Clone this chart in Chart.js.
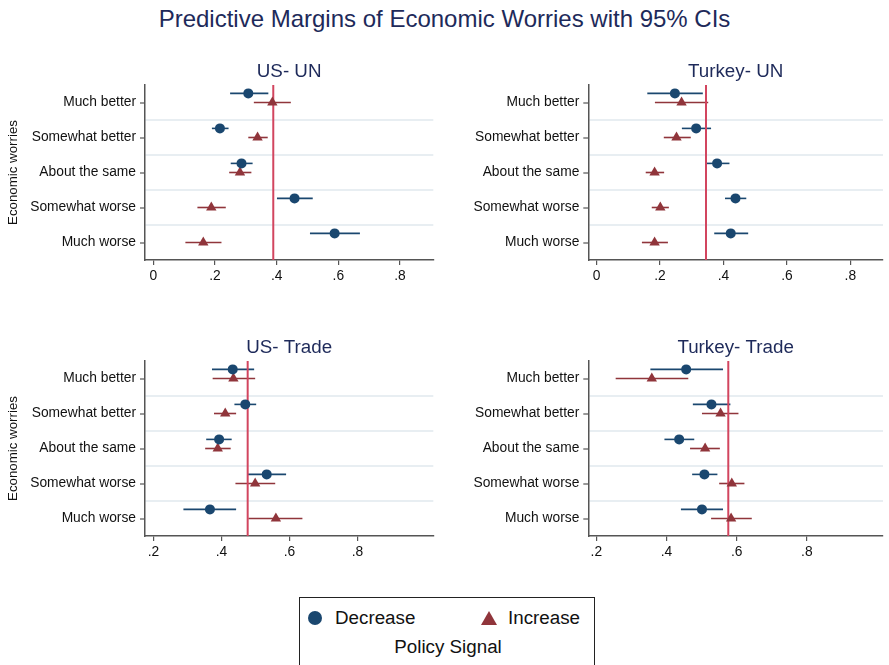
<!DOCTYPE html>
<html>
<head>
<meta charset="utf-8">
<script src="https://cdn.jsdelivr.net/npm/chart.js@4.4.1/dist/chart.umd.min.js"></script>
<style>
body { margin: 0; background: #fff; width: 889px; height: 665px; overflow: hidden; position: relative; font-family: "Liberation Sans", Arial, sans-serif; }
#title { position: absolute; top: 5px; left: 0; width: 889px; text-align: center; font-size: 24px; color: #1e2a5a; }
canvas { position: absolute; }
#legend { position: absolute; left: 299px; top: 597px; width: 296px; height: 90px; border: 1.5px solid #222; box-sizing: border-box; font-size: 18.8px; color: #111; }
#legend .dot { position: absolute; left: 8px; top: 13px; width: 14px; height: 14px; border-radius: 50%; background: #1a476f; }
#legend .tri { position: absolute; left: 181px; top: 13px; width: 0; height: 0; border-left: 8.5px solid transparent; border-right: 8.5px solid transparent; border-bottom: 14px solid #90353b; }
#legend span { position: absolute; line-height: 22px; }
</style>
</head>
<body>
<div id="title">Predictive Margins of Economic Worries with 95% CIs</div>
<canvas id="c0" width="445" height="240" style="left:0;top:50px"></canvas>
<canvas id="c1" width="444" height="240" style="left:445px;top:50px"></canvas>
<canvas id="c2" width="445" height="240" style="left:0;top:326px"></canvas>
<canvas id="c3" width="444" height="240" style="left:445px;top:326px"></canvas>
<div id="legend">
  <div class="dot"></div><span style="left:35px;top:9px">Decrease</span>
  <div class="tri"></div><span style="left:208px;top:9px">Increase</span>
  <span style="left:0;width:296px;text-align:center;top:38px">Policy Signal</span>
</div>
<script>
const categories = ['Much better', 'Somewhat better', 'About the same', 'Somewhat worse', 'Much worse'];
const panelTitles = ['US- UN', 'Turkey- UN', 'US- Trade', 'Turkey- Trade'];
const refLines = [0.389, 0.345, 0.477, 0.576];
const xTickValues = [[0, 0.2, 0.4, 0.6, 0.8], [0, 0.2, 0.4, 0.6, 0.8], [0.2, 0.4, 0.6, 0.8], [0.2, 0.4, 0.6, 0.8]];
const xMin = [-0.027, -0.026, 0.175, 0.177];
const xMax = [0.908, 0.903, 1.023, 1.017];

const decreaseMargin = [
    [0.308, 0.216, 0.286, 0.458, 0.588],
    [0.247, 0.314, 0.380, 0.438, 0.423],
    [0.433, 0.470, 0.393, 0.533, 0.366],
    [0.456, 0.528, 0.436, 0.508, 0.501]
];
const decreaseLow = [
    [0.249, 0.190, 0.251, 0.401, 0.508],
    [0.160, 0.269, 0.342, 0.405, 0.371],
    [0.372, 0.438, 0.355, 0.476, 0.288],
    [0.354, 0.475, 0.394, 0.473, 0.441]
];
const decreaseHigh = [
    [0.373, 0.244, 0.322, 0.517, 0.670],
    [0.335, 0.361, 0.419, 0.472, 0.478],
    [0.496, 0.502, 0.430, 0.590, 0.443],
    [0.561, 0.582, 0.479, 0.545, 0.561]
];
const increaseMargin = [
    [0.386, 0.338, 0.281, 0.188, 0.162],
    [0.268, 0.252, 0.183, 0.201, 0.183],
    [0.435, 0.411, 0.389, 0.499, 0.560],
    [0.358, 0.554, 0.510, 0.586, 0.584]
];
const increaseLow = [
    [0.326, 0.308, 0.246, 0.143, 0.104],
    [0.184, 0.212, 0.155, 0.174, 0.143],
    [0.374, 0.378, 0.352, 0.441, 0.479],
    [0.255, 0.501, 0.467, 0.550, 0.527]
];
const increaseHigh = [
    [0.446, 0.371, 0.318, 0.235, 0.221],
    [0.352, 0.297, 0.213, 0.228, 0.225],
    [0.499, 0.443, 0.427, 0.558, 0.638],
    [0.462, 0.605, 0.552, 0.622, 0.643]
];

const navy = '#1a476f';
const maroon = '#90353b';
const fontFamily = '"Liberation Sans", Arial, sans-serif';

// draws CI whiskers, the reference line and the panel title
const panelExtras = {
    id: 'panelExtras',
    beforeDatasetsDraw(chart, args, opts) {
        const ctx = chart.ctx;
        const xs = chart.scales.x;
        const area = chart.chartArea;
        ctx.save();
        chart.data.datasets.forEach((ds, di) => {
            const meta = chart.getDatasetMeta(di);
            ctx.strokeStyle = ds.ciColor;
            ctx.lineWidth = 1.6;
            meta.data.forEach((pt, i) => {
                ctx.beginPath();
                ctx.moveTo(xs.getPixelForValue(ds.ciLow[i]), pt.y);
                ctx.lineTo(xs.getPixelForValue(ds.ciHigh[i]), pt.y);
                ctx.stroke();
            });
        });
        const rx = xs.getPixelForValue(opts.ref);
        ctx.strokeStyle = '#d2455f';
        ctx.lineWidth = 2;
        ctx.beginPath();
        ctx.moveTo(rx, area.top);
        ctx.lineTo(rx, area.bottom);
        ctx.stroke();

        ctx.fillStyle = '#1e2a5a';
        ctx.font = '18.8px ' + fontFamily;
        ctx.textAlign = 'center';
        ctx.textBaseline = 'middle';
        ctx.fillText(opts.title, (area.left + area.right) / 2, area.top - 13);
        ctx.restore();
    }
};

function makePanel(p) {
    const isLeft = p % 2 === 0;
    const dodge = 0.26;
    new Chart(document.getElementById('c' + p), {
        type: 'scatter',
        data: {
            datasets: [
                {
                    label: 'Decrease',
                    data: categories.map((c, i) => ({ x: decreaseMargin[p][i], y: i + 1 - dodge })),
                    ciLow: decreaseLow[p], ciHigh: decreaseHigh[p], ciColor: navy,
                    pointStyle: 'circle', pointRadius: 5, backgroundColor: navy, borderColor: navy, borderWidth: 0
                },
                {
                    label: 'Increase',
                    data: categories.map((c, i) => ({ x: increaseMargin[p][i], y: i + 1 })),
                    ciLow: increaseLow[p], ciHigh: increaseHigh[p], ciColor: maroon,
                    pointStyle: 'triangle', pointRadius: 6, backgroundColor: maroon, borderColor: maroon, borderWidth: 0
                }
            ]
        },
        options: {
            responsive: false,
            animation: false,
            layout: { padding: { top: 35, right: isLeft ? 11.7 : 0, left: 0, bottom: 0 } },
            plugins: {
                legend: { display: false },
                tooltip: { enabled: false },
                panelExtras: { ref: refLines[p], title: panelTitles[p] }
            },
            scales: {
                x: {
                    type: 'linear',
                    min: xMin[p],
                    max: xMax[p],
                    afterBuildTicks: s => { s.ticks = xTickValues[p].map(v => ({ value: v })); },
                    afterFit: s => { s.height = 30; },
                    border: { display: true, color: '#555', width: 1.5 },
                    grid: { drawOnChartArea: false, drawTicks: true, tickLength: 5, color: '#555', lineWidth: 1.2 },
                    ticks: {
                        color: '#111', padding: 3,
                        font: { size: 13.8, family: fontFamily },
                        callback: v => v === 0 ? '0' : String(+v.toFixed(1)).replace(/^0/, '')
                    }
                },
                y: {
                    type: 'linear',
                    reverse: true,
                    min: 0.5,
                    max: categories.length + 0.5,
                    afterBuildTicks: s => {
                        s.ticks = categories.flatMap((c, i) => i ? [{ value: i + 0.5 }, { value: i + 1 }] : [{ value: i + 1 }]);
                    },
                    afterFit: s => { s.width = isLeft ? 145 : 143.3; },
                    border: { display: true, color: '#555', width: 1.5 },
                    grid: {
                        drawTicks: true, tickLength: 5, lineWidth: 2,
                        color: c => c.tick && c.tick.value % 1 ? '#e8eef2' : 'rgba(0,0,0,0)',
                        tickColor: c => c.tick && c.tick.value % 1 ? 'rgba(0,0,0,0)' : '#555',
                        tickWidth: 1.2
                    },
                    ticks: {
                        color: '#111', padding: 4,
                        font: { size: 13.8, family: fontFamily },
                        callback: v => v % 1 ? '' : categories[v - 1]
                    },
                    title: {
                        display: isLeft, text: 'Economic worries', color: '#111',
                        font: { size: 13.3, family: fontFamily },
                        padding: { top: 5, bottom: 0 }
                    }
                }
            }
        },
        plugins: [panelExtras]
    });
}

[0, 1, 2, 3].forEach(makePanel);
</script>
</body>
</html>
